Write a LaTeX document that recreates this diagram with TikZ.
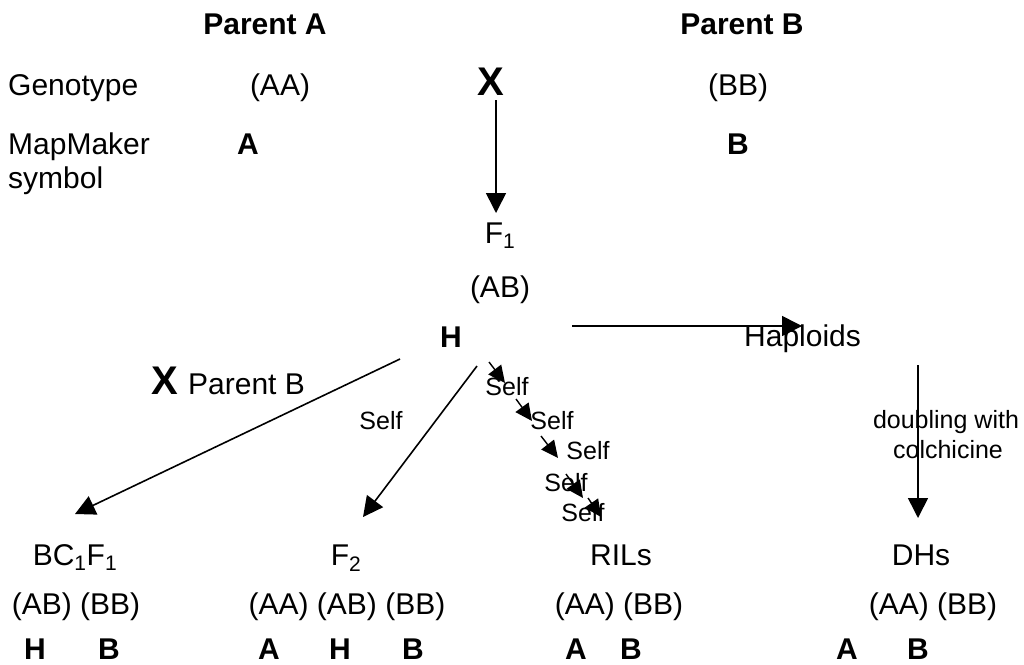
\documentclass[tikz,border=0pt]{standalone}
\usepackage{fontspec}
\setmainfont{Liberation Sans}
\usetikzlibrary{arrows.meta}
\begin{document}
\begin{tikzpicture}[x=1pt,y=-1pt,
  txt/.style={inner sep=0pt,anchor=base,font=\fontsize{30}{36}\selectfont},
  btxt/.style={inner sep=0pt,anchor=base,font=\fontsize{30}{36}\selectfont\bfseries},
  big/.style={inner sep=0pt,anchor=base,font=\fontsize{40}{48}\selectfont\bfseries},
  small/.style={inner sep=0pt,anchor=base,font=\fontsize{25}{30}\selectfont},
  arr/.style={line width=1.6pt,-{Triangle[length=20pt,width=20pt]}},
  sarr/.style={line width=1.4pt,-{Triangle[length=17pt,width=16pt]}}]
\useasboundingbox (0,0) rectangle (1024,664);
% header
\node[btxt] (pa) at (265,34) {Parent A};
\node[btxt] (pb) at (742,34) {Parent B};
\node[txt,anchor=base west] (geno) at (8,95) {Genotype};
\node[txt] (aa) at (280,95) {(AA)};
\node[big] (x1) at (491,95) {X};
\node[txt] (bb) at (738,95) {(BB)};
\node[txt,anchor=base west] (mm) at (8,154) {MapMaker};
\node[txt,anchor=base west] (sym) at (8,188) {symbol};
\node[btxt] (ma) at (248,154) {A};
\node[btxt] (mb) at (738,154) {B};
% F1
\node[txt] (f1) at (500,243) {F\textsubscript{1}};
\node[txt] (ab) at (500,297) {(AB)};
\node[btxt] (h) at (451,347) {H};
\node[txt,anchor=base west] (hap) at (744,346) {Haploids};
\node[small] (dbl1) at (946,428) {doubling with};
\node[small] (dbl2) at (948,458) {colchicine};
\node[big] (x2) at (165,394) {X};
\node[txt,anchor=base west] (pb2) at (188,394) {Parent B};
\node[small] (selfF) at (381,429) {Self};
% bottom
\node[txt] (bc) at (75,565) {BC\textsubscript{1}F\textsubscript{1}};
\node[txt] (f2) at (346,565) {F\textsubscript{2}};
\node[txt] (ril) at (621,565) {RILs};
\node[txt] (dh) at (921,565) {DHs};
\node[txt] (bcg) at (76,614) {(AB) (BB)};
\node[txt] (f2g) at (347,614) {(AA) (AB) (BB)};
\node[txt] (rilg) at (619,614) {(AA) (BB)};
\node[txt] (dhg) at (933,614) {(AA) (BB)};
\node[btxt] (s1) at (35,659) {H};
\node[btxt] (s2) at (109,659) {B};
\node[btxt] (s3) at (269,659) {A};
\node[btxt] (s4) at (340,659) {H};
\node[btxt] (s5) at (413,659) {B};
\node[btxt] (s6) at (576,659) {A};
\node[btxt] (s7) at (631,659) {B};
\node[btxt] (s8) at (847,659) {A};
\node[btxt] (s9) at (918,659) {B};
% arrow coordinates
\coordinate (xa) at (496,100); \coordinate (xb) at (496,213);
\coordinate (ha) at (572,326); \coordinate (hb) at (802,326);
\coordinate (da) at (918,365); \coordinate (db) at (918,518);
\coordinate (ba) at (400,359); \coordinate (bb2) at (75,514);
\coordinate (fa) at (477,366); \coordinate (fb) at (363,517);
\draw[arr] (xa) -- (xb);
\draw[arr] (ha) -- (hb);
\draw[arr] (da) -- (db);
\draw[arr] (ba) -- (bb2);
\draw[arr] (fa) -- (fb);
% self cascade
\coordinate (c1a) at (489,362); \coordinate (c1b) at (505,383);
\coordinate (c2a) at (516,399); \coordinate (c2b) at (532,421);
\coordinate (c3a) at (541,436); \coordinate (c3b) at (558,458);
\coordinate (c4a) at (566,474); \coordinate (c4b) at (583,498);
\coordinate (c5a) at (588,498); \coordinate (c5b) at (601,517);
\node[small] (sf1) at (507,395) {Self};
\node[small] (sf2) at (552,429) {Self};
\node[small] (sf3) at (588,459) {Self};
\node[small] (sf4) at (566,491) {Self};
\node[small] (sf5) at (583,521) {Self};
\draw[sarr] (c1a) -- (c1b);
\draw[sarr] (c2a) -- (c2b);
\draw[sarr] (c3a) -- (c3b);
\draw[sarr] (c4a) -- (c4b);
\draw[sarr] (c5a) -- (c5b);
\end{tikzpicture}
\end{document}
